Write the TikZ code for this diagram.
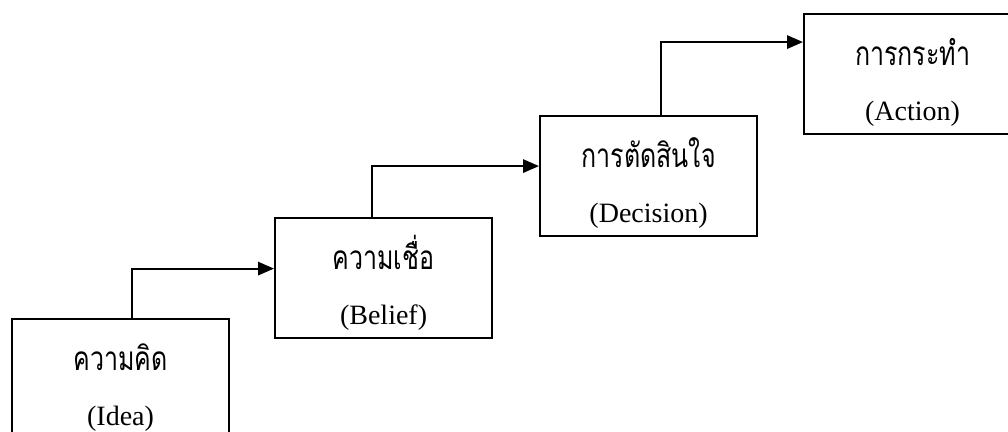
\documentclass[tikz,border=0pt]{standalone}
\usepackage{fontspec}
\setmainfont{Liberation Serif}
\newfontfamily\thaifont[Script=Thai,FakeStretch=0.75]{Loma}
\usetikzlibrary{arrows.meta}
\begin{document}
\begin{tikzpicture}[x=0.75pt,y=-0.75pt,
  stagebox/.style={draw,line width=1.6pt,minimum width=162.75pt,minimum height=90pt,inner sep=0pt,anchor=north west},
  thtext/.style={anchor=base,font=\thaifont\fontsize{25}{28}\selectfont,inner sep=0pt},
  entext/.style={anchor=base,font=\fontsize{21}{24}\selectfont,inner sep=0pt},
  arr/.style={line width=1.6pt,-{Triangle[length=12pt,width=10pt]}}]
\useasboundingbox (0,0) rectangle (1008,432);
\node[stagebox] (idea) at (11,318) {};
\node[stagebox] (belief) at (274,217) {};
\node[stagebox] (decision) at (539,115) {};
\node[stagebox] (action) at (803,13) {};
\foreach \b/\th/\en in {idea/ความคิด/(Idea),belief/ความเชื่อ/(Belief),decision/การตัดสินใจ/(Decision),action/การกระทำ/(Action)}{
  \node[thtext] (\b-th) at ([yshift=-39pt]\b.north) {\th};
  \node[entext] (\b-en) at ([yshift=-80.5pt]\b.north) {\en};
}
\draw[arr] ([xshift=8.6pt]idea.north) |- ([yshift=7.1pt]belief.west);
\draw[arr] ([xshift=-8.6pt]belief.north) |- ([yshift=7.5pt]decision.west);
\draw[arr] ([xshift=9pt]decision.north) |- ([yshift=24pt]action.west);
\end{tikzpicture}
\end{document}
